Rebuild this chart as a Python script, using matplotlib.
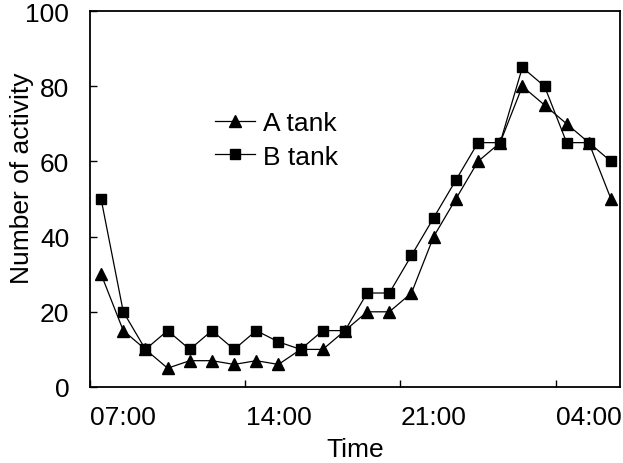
import matplotlib
matplotlib.use("Agg")
import matplotlib.pyplot as plt

# hourly counts, 06:00 through 05:00
hours = list(range(24))
a_tank = [30, 15, 10, 5, 7, 7, 6, 7, 6, 10, 10, 15,
          20, 20, 25, 40, 50, 60, 65, 80, 75, 70, 65, 50]
b_tank = [50, 20, 10, 15, 10, 15, 10, 15, 12, 10, 15, 15,
          25, 25, 35, 45, 55, 65, 65, 85, 80, 65, 65, 60]
tick_labels = ["07:00", "14:00", "21:00", "04:00"]
label_pos = [1, 8, 15, 22]
tick_pos = [-0.5, 6.5, 13.5, 20.5]

plt.rcParams['font.family'] = ['Liberation Sans', 'DejaVu Sans']
fs = 19

fig = plt.figure(figsize=(6.23, 4.64), dpi=100)
ax = fig.add_axes([0.1445, 0.1638, 0.8505, 0.8102])

ax.plot(hours, a_tank, color="black", lw=0.9, marker="^", ms=9, label="A tank")
ax.plot(hours, b_tank, color="black", lw=0.9, marker="s", ms=7, label="B tank")

ax.set_xlim(-0.5, 23.4)
ax.set_ylim(0, 100)
ax.set_yticks([0, 20, 40, 60, 80, 100])

# tick marks sit between categories, labels on the category itself
ax.set_xticks(tick_pos)
ax.set_xticklabels([])
ax.set_xticks(label_pos, minor=True)
ax.set_xticklabels(tick_labels, minor=True)
ax.tick_params(axis="x", which="major", direction="in", length=5, width=1)
ax.tick_params(axis="x", which="minor", length=0, pad=13, labelsize=fs)
ax.tick_params(axis="y", direction="in", length=5, width=1, pad=15, labelsize=fs)

for s in ax.spines.values():
    s.set_linewidth(1.3)

ax.set_xlabel("Time", fontsize=fs, labelpad=6)
ax.set_ylabel("Number of activity", fontsize=fs)
ax.yaxis.set_label_coords(-0.105, 0.558)

ax.legend(loc="upper left", bbox_to_anchor=(0.216, 0.761), frameon=False,
          fontsize=fs, handlelength=1.5, handletextpad=0.3, labelspacing=0.35,
          borderaxespad=0)

fig.savefig("out.png", dpi=100)
